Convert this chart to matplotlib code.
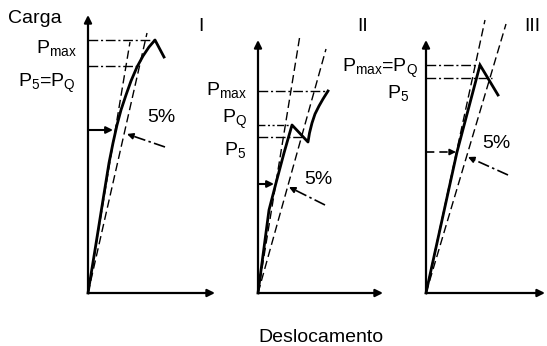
import matplotlib
matplotlib.use("Agg")
import matplotlib.pyplot as plt

plt.rcParams['font.family'] = ['Liberation Sans', 'DejaVu Sans']
plt.rcParams['mathtext.fontset'] = 'custom'
plt.rcParams['mathtext.rm'] = 'Liberation Sans'
plt.rcParams['mathtext.it'] = 'Liberation Sans:italic'
plt.rcParams['mathtext.bf'] = 'Liberation Sans:bold'

# ---------------- data (displacement, load) per panel ----------------
panel_names = ["I", "II", "III"]
axis_label_y = "Carga"
axis_label_x = "Deslocamento"

# Type I: smooth nonlinear curve
curve1_disp = [0, 7, 15, 21, 25, 29, 33, 38, 43, 49, 55, 61, 67, 76]
curve1_load = [0, 43, 93, 130, 150, 168, 183, 198, 212, 226, 237, 246, 253, 236]
tangent1_top = (42, 251)
secant1_top = (59, 260)
pmax1, p5_1 = 253, 227

# Type II: pop-in then rising
curve2_disp = [0, 11, 18, 26, 34, 50, 51.5, 54, 57, 61, 65, 70]
curve2_load = [0, 83, 110, 140, 168, 151, 160, 170, 179, 187, 194, 202]
tangent2_top = (42, 258)
secant2_top = (68, 244)
pmax2, pq2, p5_2 = 202, 168, 156

# Type III: linear to max then drop
curve3_disp = [0, 31, 54, 72]
curve3_load = [0, 141, 228, 198]
tangent3_top = (59, 273)
secant3_top = (80, 269)
pmax3, p5_3 = 228, 215

# ---------------- figure ----------------
fig = plt.figure(figsize=(5.47, 3.46), dpi=100)
ax = fig.add_axes([0, 0, 1, 1])
ax.set_xlim(0, 547)
ax.set_ylim(0, 346)
ax.axis('off')

oy = 53
ox = [88, 258, 426]
ytop = [278, 253, 253]      # axis heights (load units)
xend = [127, 125, 119]      # axis lengths (disp units)

FS = 14
DASH = (6, 3)
DASHDOT = (7, 2, 1.5, 2)
DASHDOTDOT = (5, 1.8, 1.5, 1.8, 1.5, 1.8)


def arrow(x0, y0, x1, y1, lw=1.5, ms=11):
    ax.annotate('', xy=(x1, y1), xytext=(x0, y0),
                arrowprops=dict(arrowstyle='-|>', lw=lw, color='k',
                                mutation_scale=ms, shrinkA=0, shrinkB=0))


def styled_arrow(o, x0, y0, x1, y1, dashes):
    fx = x1 - x0
    fy = y1 - y0
    L = (fx ** 2 + fy ** 2) ** 0.5
    hx = x1 - fx / L * 6
    hy = y1 - fy / L * 6
    ax.plot([o + x0, o + hx], [oy + y0, oy + hy], color='k', lw=1.2,
            dashes=dashes, solid_capstyle='butt')
    arrow(o + hx, oy + hy, o + x1, oy + y1, lw=1.2, ms=9)


def hline(o, load, xe, dashes):
    ax.plot([o, o + xe], [oy + load, oy + load], color='k', lw=1.0, dashes=dashes)


def ref_line(o, top, dashes=DASH):
    ax.plot([o, o + top[0]], [oy, oy + top[1]], color='k', lw=1.0, dashes=dashes)


for i in range(3):
    o = ox[i]
    arrow(o, oy, o, oy + ytop[i], lw=1.6, ms=11)
    arrow(o, oy, o + xend[i], oy, lw=1.6, ms=11)

# ---- Panel I ----
o = ox[0]
hline(o, pmax1, 67, DASHDOT)
hline(o, p5_1, 50, DASHDOT)
ref_line(o, tangent1_top)
ref_line(o, secant1_top)
ax.plot([o + d for d in curve1_disp], [oy + l for l in curve1_load],
        color='k', lw=2.0, solid_joinstyle='round')
arrow(o, oy + 163, o + 25, oy + 163, lw=1.5, ms=10)
styled_arrow(o, 77, 146, 39, 159, DASHDOT)
ax.text(161, 228, "5%", fontsize=FS, ha='center', va='center')
ax.text(77, 293, r"P$_{\mathrm{max}}$", fontsize=FS, ha='right', va='baseline')
ax.text(76, 259, r"P$_{5}$=P$_{\mathrm{Q}}$", fontsize=FS, ha='right', va='baseline')

# ---- Panel II ----
o = ox[1]
hline(o, pmax2, 70, DASHDOT)
hline(o, pq2, 34, DASHDOTDOT)
hline(o, p5_2, 44, DASHDOT)
ref_line(o, tangent2_top)
ref_line(o, secant2_top)
ax.plot([o + d for d in curve2_disp], [oy + l for l in curve2_load],
        color='k', lw=2.0, solid_joinstyle='round')
arrow(o, oy + 109, o + 16, oy + 109, lw=1.5, ms=10)
styled_arrow(o, 67, 88, 31, 106, DASHDOT)
ax.text(318, 166, "5%", fontsize=FS, ha='center', va='center')
ax.text(247, 251, r"P$_{\mathrm{max}}$", fontsize=FS, ha='right', va='baseline')
ax.text(247, 223, r"P$_{\mathrm{Q}}$", fontsize=FS, ha='right', va='baseline')
ax.text(246, 191, r"P$_{5}$", fontsize=FS, ha='right', va='baseline')

# ---- Panel III ----
o = ox[2]
hline(o, pmax3, 54, DASHDOT)
hline(o, p5_3, 66, DASHDOT)
ref_line(o, tangent3_top)
ref_line(o, secant3_top)
ax.plot([o + d for d in curve3_disp], [oy + l for l in curve3_load],
        color='k', lw=2.0, solid_joinstyle='miter')
styled_arrow(o, 0, 141, 30, 141, (5, 3))
styled_arrow(o, 82, 118, 42, 136, DASHDOT)
ax.text(496, 202, "5%", fontsize=FS, ha='center', va='center')
ax.text(418, 274, r"P$_{\mathrm{max}}$=P$_{\mathrm{Q}}$", fontsize=FS, ha='right', va='baseline')
ax.text(409, 248, r"P$_{5}$", fontsize=FS, ha='right', va='baseline')

# ---- labels ----
ax.text(8, 323, axis_label_y, fontsize=FS, ha='left', va='baseline')
ax.text(321, 9, axis_label_x, fontsize=FS, ha='center', va='center')
for name, xc in zip(panel_names, [201, 363, 532]):
    ax.text(xc, 315, name, fontsize=FS, ha='center', va='baseline')

fig.savefig("out.png", dpi=100)
